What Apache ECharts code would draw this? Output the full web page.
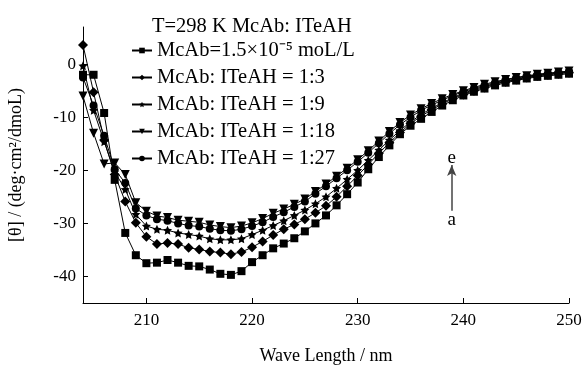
<!DOCTYPE html>
<html><head><meta charset="utf-8">
<script src="https://cdn.jsdelivr.net/npm/echarts@6/dist/echarts.min.js"></script>
<style>html,body{margin:0;padding:0;background:#fff}#c{width:584px;height:365px}</style>
</head><body><div id="c"></div>
<script>
const wavelengths = [204,205,206,207,208,209,210,211,212,213,214,215,216,217,218,219,220,221,222,223,224,225,226,227,228,229,230,231,232,233,234,235,236,237,238,239,240,241,242,243,244,245,246,247,248,249,250];
const seriesNames = ['McAb=1.5×10⁻⁵ moL/L','McAb: ITeAH = 1:3','McAb: ITeAH = 1:9','McAb: ITeAH = 1:18','McAb: ITeAH = 1:27'];
const mcab =   [-2.0,-2.0,-9.2,-21.8,-31.8,-36.0,-37.5,-37.4,-36.9,-37.4,-38.0,-38.1,-38.7,-39.5,-39.7,-39.0,-37.3,-36.0,-34.7,-33.8,-32.8,-31.5,-30.0,-28.5,-26.6,-24.5,-22.3,-19.8,-17.5,-15.3,-13.2,-11.6,-10.3,-9.0,-7.8,-6.8,-5.9,-5.2,-4.6,-4.0,-3.5,-3.1,-2.7,-2.4,-2.2,-2.0,-1.8];
const r1_3 =   [3.6,-5.3,-14.3,-20.8,-25.9,-29.9,-32.5,-33.9,-33.7,-33.9,-34.6,-34.9,-35.3,-35.5,-35.8,-35.4,-34.5,-33.4,-32.2,-31.1,-30.2,-29.2,-28.0,-26.7,-25.0,-23.0,-21.0,-18.9,-16.8,-14.8,-12.9,-11.2,-9.8,-8.6,-7.5,-6.5,-5.7,-5.0,-4.4,-3.8,-3.3,-2.9,-2.5,-2.2,-2.0,-1.8,-1.6];
const r1_9 =   [-0.3,-8.7,-14.6,-20.3,-23.6,-28.3,-30.5,-31.1,-31.3,-31.8,-32.1,-32.4,-32.9,-33.1,-33.1,-32.9,-32.1,-31.3,-30.4,-29.5,-28.5,-27.5,-26.3,-25.0,-23.4,-21.7,-20.0,-18.1,-16.2,-14.3,-12.5,-10.9,-9.5,-8.3,-7.3,-6.3,-5.5,-4.8,-4.2,-3.7,-3.2,-2.8,-2.4,-2.1,-1.9,-1.7,-1.5];
const r1_18 =  [-6.0,-13.0,-18.8,-18.6,-20.8,-26.1,-27.7,-28.6,-28.9,-29.4,-29.6,-29.8,-30.3,-30.6,-30.8,-30.5,-29.9,-29.1,-28.1,-27.3,-26.4,-25.4,-24.0,-22.6,-21.1,-19.6,-18.0,-16.3,-14.5,-12.7,-11.0,-9.6,-8.4,-7.4,-6.5,-5.7,-5.0,-4.4,-3.8,-3.3,-2.9,-2.5,-2.2,-1.9,-1.7,-1.5,-1.3];
const r1_27 =  [-2.5,-7.8,-13.5,-19.8,-22.4,-27.2,-28.5,-29.2,-29.5,-30.0,-30.4,-30.6,-31.0,-31.3,-31.4,-31.1,-30.5,-29.8,-28.8,-27.9,-26.9,-25.9,-24.4,-23.0,-21.5,-20.0,-18.4,-16.7,-14.9,-13.1,-11.4,-10.0,-8.7,-7.7,-6.8,-5.9,-5.2,-4.6,-4.0,-3.5,-3.0,-2.6,-2.3,-2.0,-1.8,-1.6,-1.4];
const xTicks = [210,220,230,240,250];
const yTicks = [0,-10,-20,-30,-40];
const arrowX = 238.9, arrowFrom = -27.6, arrowTo = -19.0, labelE = -17.6, labelA = -29.4;

const STAR = 'path://M0,-10 L2.9,-4 L9.5,-3.1 L4.7,1.5 L5.9,8.1 L0,5 L-5.9,8.1 L-4.7,1.5 L-9.5,-3.1 L-2.9,-4 Z';
const symbols = [
  {symbol:'rect', size:8, rot:0},
  {symbol:'diamond', size:10, rot:0},
  {symbol:STAR, size:9, rot:0},
  {symbol:'triangle', size:9, rot:180},
  {symbol:'circle', size:8, rot:0}
];
const allData = [mcab, r1_3, r1_9, r1_18, r1_27];
const FONT = 'Liberation Serif';

const series = allData.map((arr, i) => ({
  name: seriesNames[i],
  type: 'line',
  data: wavelengths.map((w, j) => [w, arr[j]]),
  symbol: symbols[i].symbol,
  symbolSize: symbols[i].size,
  symbolRotate: symbols[i].rot,
  showSymbol: true,
  lineStyle: {color:'#000', width:1},
  itemStyle: {color:'#000', borderColor:'#000', borderWidth:0},
  emphasis: {disabled:true},
  animation: false,
  z: 2 + i
}));
series.push({
  type: 'line', data: [], silent: true, animation: false,
  markLine: {
    silent: true, symbol: ['none','arrow'], symbolSize: [7, 11],
    lineStyle: {color:'#444', width:1.5, type:'solid'},
    label: {show:false},
    data: [[{coord:[arrowX, arrowFrom]}, {coord:[arrowX, arrowTo]}]]
  },
  markPoint: {
    silent: true, symbol: 'circle', symbolSize: 0,
    label: {show:true, position:'inside', color:'#000', fontFamily:FONT, fontSize:19},
    data: [
      {coord:[arrowX, labelE], value:'e', label:{formatter:'e'}},
      {coord:[arrowX, labelA], value:'a', label:{formatter:'a'}}
    ]
  }
});

const chart = echarts.init(document.getElementById('c'), null, {renderer:'canvas'});
chart.setOption({
  backgroundColor: '#fff',
  animation: false,
  title: {
    text: 'T=298 K McAb: ITeAH', left: 147, top: 11,
    textStyle: {fontFamily: FONT, fontSize: 20.5, fontWeight: 'normal', color: '#000'}
  },
  legend: {
    orient: 'vertical', left: 126, top: 35,
    itemWidth: 20, itemHeight: 7, itemGap: 6,
    textStyle: {fontFamily: FONT, fontSize: 20.5, color: '#000', lineHeight: 20},
    data: seriesNames,
    selectedMode: false
  },
  grid: {left: 83, right: 15, top: 27, bottom: 62, outerBoundsMode: 'none', containLabel: false},
  xAxis: {
    type: 'value', min: 204, max: 250,
    name: 'Wave Length / nm', nameLocation: 'middle', nameGap: 44,
    nameTextStyle: {fontFamily: FONT, fontSize: 18, color: '#000'},
    axisLine: {show: true, onZero: false, lineStyle: {color: '#000', width: 1}},
    axisTick: {show: true, inside: true, length: 5, customValues: xTicks, lineStyle:{color:'#000'}},
    axisLabel: {customValues: xTicks, fontFamily: FONT, fontSize: 17, color: '#000', margin: 9},
    splitLine: {show: false}
  },
  yAxis: {
    type: 'value', min: -45, max: 7,
    name: '[θ] / (deg·cm²/dmoL)', nameLocation: 'middle', nameGap: 58, nameRotate: 90,
    nameTextStyle: {fontFamily: FONT, fontSize: 18, color: '#000'},
    axisLine: {show: true, onZero: false, lineStyle: {color: '#000', width: 1}},
    axisTick: {show: true, inside: true, length: 5, customValues: yTicks, lineStyle:{color:'#000'}},
    axisLabel: {customValues: yTicks, fontFamily: FONT, fontSize: 17, color: '#000', margin: 7},
    splitLine: {show: false}
  },
  series: series
});
</script>
</body></html>
